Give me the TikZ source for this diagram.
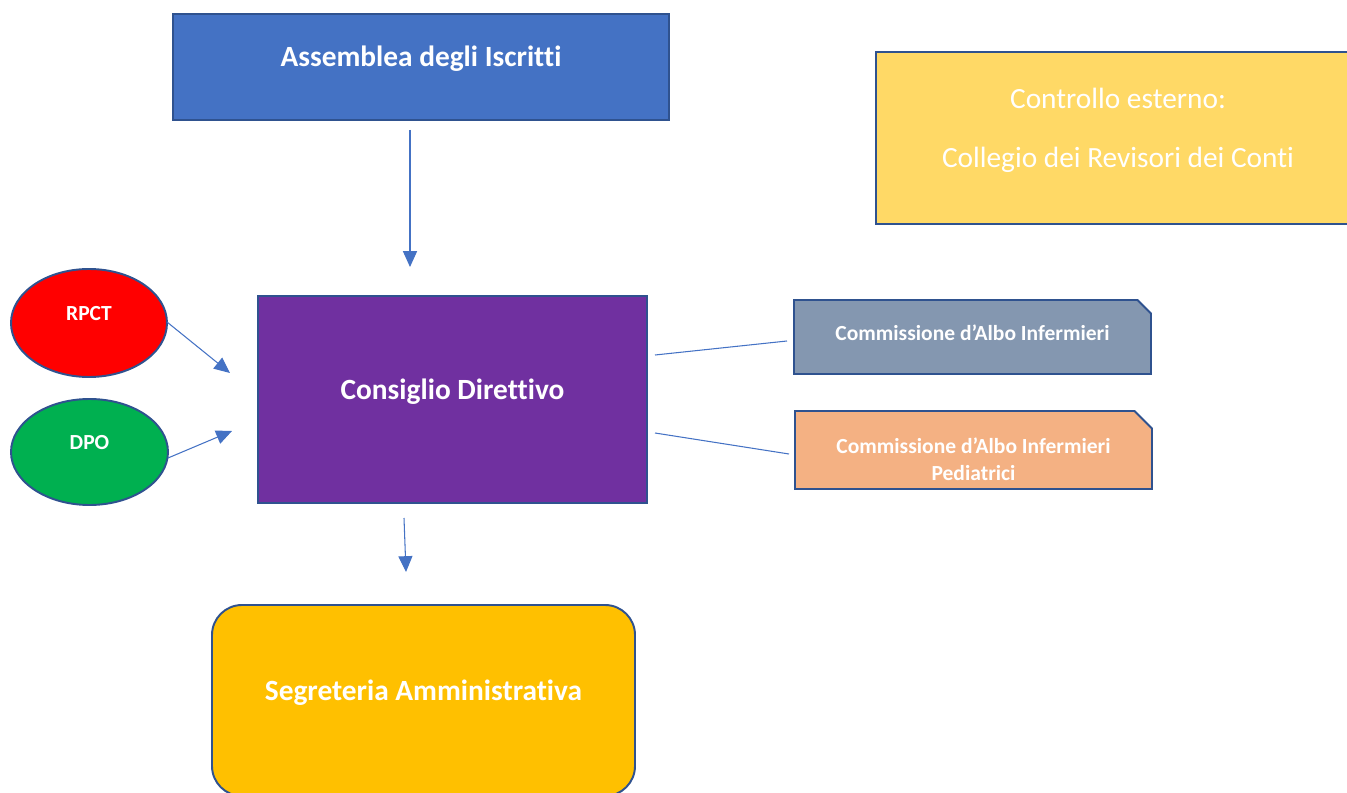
\documentclass[tikz,border=0pt]{standalone}
\usepackage{fontspec}
\setmainfont{Carlito}[Ligatures=NoCommon]
\usetikzlibrary{arrows.meta,shapes.geometric,shapes.misc}
\definecolor{edgeblue}{HTML}{2F528F}
\definecolor{lineblue}{HTML}{4472C4}
\definecolor{assblue}{HTML}{4472C4}
\definecolor{revyellow}{HTML}{FFD966}
\definecolor{cdpurple}{HTML}{7030A0}
\definecolor{dpogreen}{HTML}{00B050}
\definecolor{infgrey}{HTML}{8497B0}
\definecolor{pedorange}{HTML}{F4B183}
\definecolor{segamber}{HTML}{FFC000}
% raise a line of text without changing its size
\newcommand\lift[2]{\raisebox{#1}[\height][\depth]{#2}}
\begin{document}
\begin{tikzpicture}[
    box/.style={draw=edgeblue, line width=1.1pt, inner sep=0pt, outer sep=0pt,
                text=white, align=center},
    bigtext/.style={font=\bfseries\fontsize{16.7}{20}\selectfont},
    smalltext/.style={font=\bfseries\fontsize{12.25}{15.3}\selectfont},
    oval/.style={box, ellipse, smalltext},
    commbox/.style={box, smalltext, chamfered rectangle,
                    chamfered rectangle corners=north east,
                    chamfered rectangle xsep=0.24cm,
                    minimum width=7.14cm},
    link/.style={lineblue, line width=0.6pt},
    flow/.style={link, -{Triangle[width=8pt,length=9pt]}}
  ]
  \useasboundingbox (0,0) rectangle (26.94,15.84);

  \node[box, bigtext, fill=assblue, minimum width=9.92cm, minimum height=2.12cm]
    (assemblea) at (8.42,14.50) {\lift{0.16cm}{Assemblea degli Iscritti}};
  \node[box, fill=revyellow, minimum width=9.68cm, minimum height=3.44cm,
        font=\fontsize{16.7}{33.5}\selectfont]
    (revisori) at (22.36,13.08)
    {\lift{0.16cm}{Controllo esterno:}\\\lift{0.16cm}{Collegio dei Revisori dei Conti}};
  \node[oval, fill=red, minimum width=3.12cm, minimum height=2.16cm]
    (rpct) at (1.78,9.38) {\lift{0.18cm}{RPCT}};
  \node[oval, fill=dpogreen, minimum width=3.14cm, minimum height=2.12cm]
    (dpo) at (1.79,6.80) {\lift{0.18cm}{DPO}};
  \node[box, bigtext, fill=cdpurple, minimum width=7.78cm, minimum height=4.14cm]
    (consiglio) at (9.05,7.85) {\lift{0.16cm}{Consiglio Direttivo}};
  \node[commbox, fill=infgrey, minimum height=1.48cm]
    (albo) at (19.45,9.10) {\lift{0.08cm}{Commissione d’Albo Infermieri}};
  \node[commbox, fill=pedorange, minimum height=1.56cm]
    (alboped) at (19.47,6.84)
    {\lift{-0.19cm}{Commissione d’Albo Infermieri}\\\lift{-0.19cm}{Pediatrici}};
  \node[box, bigtext, fill=segamber, rounded corners=0.6cm,
        minimum width=8.46cm, minimum height=3.82cm]
    (segreteria) at (8.47,1.83) {\lift{0.16cm}{Segreteria Amministrativa}};

  % free ends of the connectors
  \coordinate (assout) at (8.20,13.24);
  \coordinate (cdin) at (8.20,10.50);
  \coordinate (rpctout) at (3.34,9.40);
  \coordinate (rpctin) at (4.60,8.38);
  \coordinate (dpoout) at (3.36,6.68);
  \coordinate (dpoin) at (4.64,7.22);
  \coordinate (cdout) at (8.08,5.48);
  \coordinate (segin) at (8.12,4.40);
  \coordinate (infa) at (13.10,8.74);
  \coordinate (infb) at (15.74,9.02);
  \coordinate (peda) at (13.10,7.18);
  \coordinate (pedb) at (15.78,6.76);

  \draw[flow] (assout) -- (cdin);
  \draw[flow] (rpctout) -- (rpctin);
  \draw[flow] (dpoout) -- (dpoin);
  \draw[flow] (cdout) -- (segin);
  \draw[link] (infa) -- (infb);
  \draw[link] (peda) -- (pedb);
\end{tikzpicture}
\end{document}
